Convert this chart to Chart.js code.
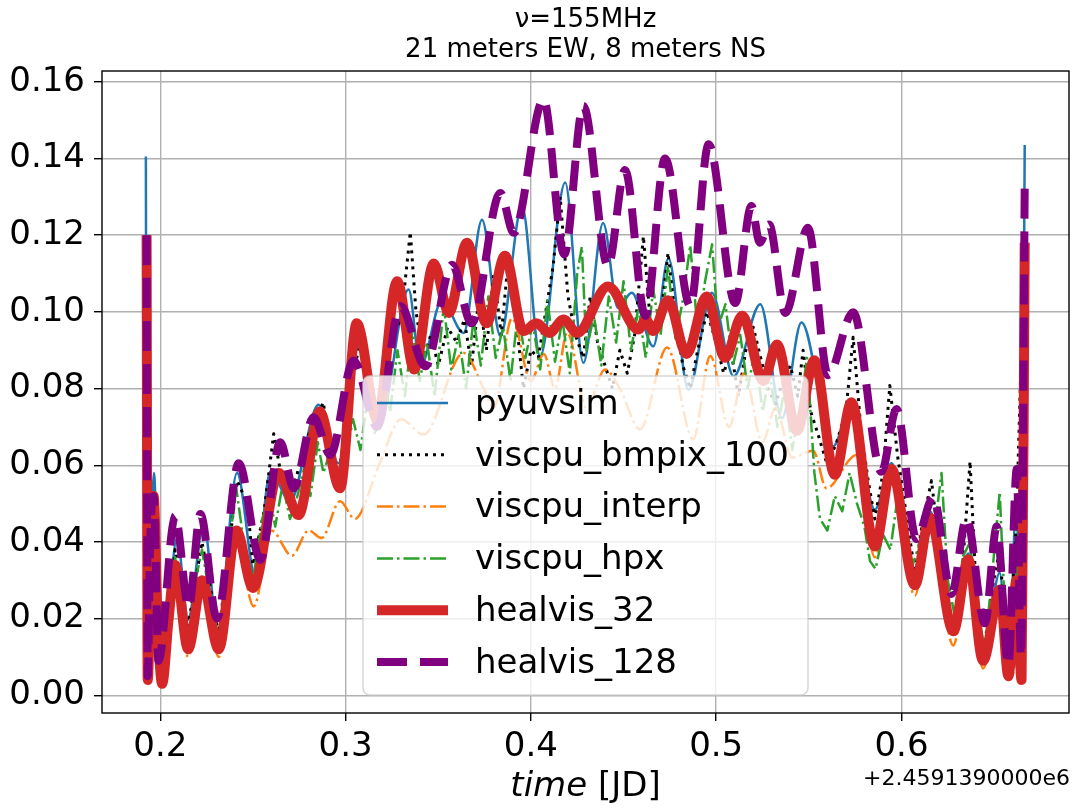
<!DOCTYPE html>
<html>
<head>
<meta charset="utf-8">
<script src="https://cdn.jsdelivr.net/npm/chart.js@4/dist/chart.umd.min.js"></script>
<style>
  body { margin: 0; background: #fff; }
  #wrap { width: 1073px; height: 808px; }
</style>
</head>
<body>
<div id="wrap"><canvas id="myChart" width="1073" height="808"></canvas></div>
<script>
// DATA (time offsets from 2459139.0 JD, amplitudes)

const xTicks = [0.2, 0.3, 0.4, 0.5, 0.6];
const yTicks = [0.00, 0.02, 0.04, 0.06, 0.08, 0.10, 0.12, 0.14, 0.16];

const pyuvsimT = [0.1922, 0.1928, 0.1945, 0.1966, 0.1990, 0.2010, 0.2090, 0.2150, 0.2234, 0.2310,
  0.2414, 0.2513, 0.2594, 0.2700, 0.2854, 0.2962, 0.3070, 0.3187, 0.3340, 0.3404,
  0.3520, 0.3637, 0.3736, 0.3835, 0.3952, 0.4050, 0.4185, 0.4283, 0.4390, 0.4470,
  0.4544, 0.4661, 0.4742, 0.4850, 0.4977, 0.5094, 0.5238, 0.5355, 0.5460, 0.5630,
  0.5730, 0.5856, 0.5946, 0.6070, 0.6153, 0.6280, 0.6360, 0.6440, 0.6530, 0.6577,
  0.6620, 0.6645, 0.6665];
const pyuvsimV = [0.1405, 0.005, 0.030, 0.058, 0.015, 0.006, 0.041, 0.020, 0.045, 0.0167,
  0.058, 0.031, 0.0583, 0.0506, 0.0758, 0.0605, 0.0912, 0.072, 0.1058, 0.0858,
  0.103, 0.0945, 0.124, 0.0937, 0.1276, 0.0884, 0.1337, 0.0867, 0.1232, 0.101,
  0.105, 0.091, 0.114, 0.0797, 0.105, 0.0832, 0.102, 0.0723, 0.0972, 0.0649,
  0.0758, 0.0484, 0.0605, 0.033, 0.048, 0.019, 0.037, 0.010, 0.032, 0.006,
  0.050, 0.008, 0.1435];

const bmpixT = [0.1926, 0.1932, 0.1964, 0.2010, 0.2080, 0.2150, 0.2225, 0.2315, 0.2414, 0.2470,
  0.2500, 0.2560, 0.2612, 0.2650, 0.2700, 0.2750, 0.2800, 0.2880, 0.2920, 0.2960,
  0.3000, 0.3040, 0.3080, 0.3120, 0.3160, 0.3200, 0.3250, 0.3300, 0.3349, 0.3380,
  0.3420, 0.3460, 0.3500, 0.3550, 0.3600, 0.3640, 0.3680, 0.3720, 0.3760, 0.3800,
  0.3840, 0.3880, 0.3920, 0.3960, 0.4000, 0.4040, 0.4080, 0.4120, 0.4158, 0.4200,
  0.4240, 0.4283, 0.4320, 0.4360, 0.4400, 0.4440, 0.4480, 0.4520, 0.4560, 0.4607,
  0.4650, 0.4700, 0.4740, 0.4780, 0.4820, 0.4860, 0.4900, 0.4950, 0.5000, 0.5040,
  0.5080, 0.5120, 0.5160, 0.5200, 0.5240, 0.5280, 0.5320, 0.5360, 0.5400, 0.5440,
  0.5469, 0.5510, 0.5550, 0.5600, 0.5650, 0.5700, 0.5739, 0.5780, 0.5820, 0.5856,
  0.5900, 0.5937, 0.5980, 0.6030, 0.6072, 0.6110, 0.6162, 0.6200, 0.6250, 0.6290,
  0.6330, 0.6370, 0.6400, 0.6440, 0.6490, 0.6530, 0.6577, 0.6620, 0.6665];
const bmpixV = [0.110, 0.004, 0.052, 0.006, 0.038, 0.018, 0.040, 0.016, 0.056, 0.050,
  0.034, 0.048, 0.0682, 0.058, 0.050, 0.060, 0.068, 0.0764, 0.062, 0.056,
  0.070, 0.084, 0.092, 0.078, 0.070, 0.082, 0.094, 0.098, 0.1208, 0.100,
  0.088, 0.094, 0.086, 0.096, 0.092, 0.098, 0.086, 0.104, 0.090, 0.110,
  0.094, 0.1145, 0.098, 0.080, 0.090, 0.088, 0.100, 0.112, 0.130, 0.104,
  0.094, 0.088, 0.104, 0.092, 0.086, 0.080, 0.090, 0.084, 0.094, 0.1197,
  0.094, 0.098, 0.1154, 0.098, 0.086, 0.080, 0.090, 0.100, 0.092, 0.084,
  0.090, 0.078, 0.090, 0.096, 0.088, 0.080, 0.076, 0.082, 0.086, 0.078,
  0.090, 0.074, 0.068, 0.060, 0.066, 0.074, 0.0934, 0.070, 0.056, 0.046,
  0.058, 0.0808, 0.062, 0.046, 0.032, 0.044, 0.056, 0.040, 0.020, 0.016,
  0.034, 0.061, 0.030, 0.010, 0.028, 0.038, 0.006, 0.045, 0.120];

const interpT = [0.1926, 0.1932, 0.1964, 0.2010, 0.2080, 0.2150, 0.2225, 0.2315, 0.2410, 0.2504,
  0.2600, 0.2710, 0.2800, 0.2870, 0.2970, 0.3050, 0.3180, 0.3300, 0.3420, 0.3637,
  0.3745, 0.3800, 0.3898, 0.4000, 0.4070, 0.4130, 0.4196, 0.4300, 0.4400, 0.4480,
  0.4589, 0.4735, 0.4876, 0.4968, 0.5070, 0.5150, 0.5250, 0.5320, 0.5410, 0.5523,
  0.5595, 0.5757, 0.5856, 0.5946, 0.6072, 0.6153, 0.6280, 0.6360, 0.6440, 0.6531,
  0.6577, 0.6640, 0.6665];
const interpV = [0.115, 0.004, 0.048, 0.005, 0.032, 0.010, 0.029, 0.010, 0.040, 0.0232,
  0.043, 0.0364, 0.043, 0.041, 0.0506, 0.046, 0.060, 0.072, 0.068, 0.0893,
  0.080, 0.075, 0.0984, 0.082, 0.089, 0.080, 0.0946, 0.075, 0.085, 0.080,
  0.0694, 0.0907, 0.0668, 0.0885, 0.070, 0.084, 0.066, 0.075, 0.062, 0.0638,
  0.054, 0.0627, 0.036, 0.056, 0.026, 0.044, 0.013, 0.034, 0.007, 0.026,
  0.004, 0.030, 0.115];

const hpxT = [0.1926, 0.1932, 0.1964, 0.2010, 0.2040, 0.2080, 0.2120, 0.2150, 0.2190, 0.2225,
  0.2260, 0.2315, 0.2360, 0.2410, 0.2450, 0.2500, 0.2550, 0.2590, 0.2620, 0.2660,
  0.2700, 0.2740, 0.2780, 0.2810, 0.2850, 0.2880, 0.2920, 0.2960, 0.3000, 0.3040,
  0.3080, 0.3120, 0.3160, 0.3200, 0.3240, 0.3280, 0.3320, 0.3360, 0.3400, 0.3440,
  0.3480, 0.3530, 0.3570, 0.3610, 0.3650, 0.3690, 0.3730, 0.3770, 0.3810, 0.3850,
  0.3890, 0.3930, 0.3970, 0.4010, 0.4050, 0.4090, 0.4130, 0.4170, 0.4210, 0.4250,
  0.4275, 0.4300, 0.4340, 0.4380, 0.4420, 0.4460, 0.4500, 0.4540, 0.4580, 0.4620,
  0.4660, 0.4700, 0.4740, 0.4780, 0.4820, 0.4860, 0.4900, 0.4940, 0.4978, 0.5010,
  0.5050, 0.5090, 0.5130, 0.5170, 0.5210, 0.5250, 0.5290, 0.5330, 0.5370, 0.5410,
  0.5450, 0.5490, 0.5530, 0.5560, 0.5600, 0.5640, 0.5680, 0.5720, 0.5760, 0.5800,
  0.5830, 0.5860, 0.5900, 0.5940, 0.5980, 0.6020, 0.6060, 0.6100, 0.6140, 0.6180,
  0.6216, 0.6250, 0.6290, 0.6330, 0.6370, 0.6410, 0.6450, 0.6490, 0.6530, 0.6560,
  0.6590, 0.6630, 0.6665];
const hpxV = [0.110, 0.004, 0.050, 0.008, 0.022, 0.036, 0.020, 0.013, 0.030, 0.038,
  0.028, 0.015, 0.035, 0.054, 0.040, 0.030, 0.046, 0.052, 0.044, 0.055,
  0.046, 0.052, 0.060, 0.052, 0.066, 0.058, 0.064, 0.056, 0.062, 0.072,
  0.064, 0.078, 0.068, 0.085, 0.074, 0.090, 0.078, 0.095, 0.082, 0.092,
  0.078, 0.1015, 0.085, 0.094, 0.080, 0.098, 0.086, 0.104, 0.088, 0.096,
  0.082, 0.100, 0.088, 0.097, 0.085, 0.103, 0.087, 0.098, 0.084, 0.110,
  0.117, 0.090, 0.099, 0.086, 0.104, 0.092, 0.108, 0.090, 0.101, 0.088,
  0.106, 0.094, 0.112, 0.093, 0.103, 0.1174, 0.095, 0.108, 0.1176, 0.096,
  0.102, 0.086, 0.094, 0.080, 0.090, 0.074, 0.084, 0.070, 0.080, 0.064,
  0.074, 0.088, 0.058, 0.046, 0.043, 0.052, 0.048, 0.058, 0.050, 0.044,
  0.035, 0.033, 0.042, 0.038, 0.052, 0.044, 0.034, 0.040, 0.048, 0.044,
  0.058, 0.030, 0.020, 0.036, 0.040, 0.022, 0.012, 0.032, 0.053, 0.020,
  0.006, 0.040, 0.110];

const healvis32T = [0.1926, 0.1932, 0.1950, 0.1964, 0.1985, 0.2010, 0.2045, 0.2080, 0.2150, 0.2225,
  0.2315, 0.2410, 0.2500, 0.2640, 0.2746, 0.2860, 0.2970, 0.3060, 0.3170, 0.3278,
  0.3370, 0.3476, 0.3557, 0.3655, 0.3760, 0.3860, 0.3960, 0.4030, 0.4100, 0.4176,
  0.4250, 0.4416, 0.4580, 0.4620, 0.4660, 0.4740, 0.4840, 0.4948, 0.5048, 0.5140,
  0.5255, 0.5328, 0.5436, 0.5530, 0.5640, 0.5730, 0.5856, 0.5946, 0.6072, 0.6153,
  0.6280, 0.6360, 0.6440, 0.6531, 0.6577, 0.6620, 0.6648, 0.6665];
const healvis32V = [0.120, 0.004, 0.035, 0.052, 0.020, 0.003, 0.020, 0.034, 0.012, 0.030,
  0.012, 0.043, 0.028, 0.058, 0.047, 0.074, 0.054, 0.097, 0.072, 0.108,
  0.085, 0.1126, 0.0997, 0.118, 0.097, 0.1146, 0.095, 0.097, 0.0945, 0.098,
  0.0945, 0.1066, 0.0954, 0.098, 0.095, 0.103, 0.089, 0.104, 0.088, 0.099,
  0.082, 0.0915, 0.069, 0.0874, 0.0575, 0.0764, 0.0388, 0.059, 0.0287, 0.0464,
  0.0167, 0.0355, 0.009, 0.0276, 0.005, 0.030, 0.004, 0.118];

const healvis128T = [0.1926, 0.1932, 0.1945, 0.1964, 0.1990, 0.2080, 0.2153, 0.2216, 0.2306, 0.2423,
  0.2540, 0.2647, 0.2720, 0.2827, 0.2917, 0.3043, 0.3170, 0.3296, 0.3430, 0.3575,
  0.3680, 0.3835, 0.3907, 0.4068, 0.4180, 0.4283, 0.4416, 0.4508, 0.4618, 0.4724,
  0.4860, 0.4959, 0.5103, 0.5190, 0.5235, 0.5285, 0.5373, 0.5495, 0.5604, 0.5739,
  0.5892, 0.5973, 0.6081, 0.6171, 0.6270, 0.6351, 0.6450, 0.6514, 0.6577, 0.6622,
  0.6645, 0.6665];
const healvis128V = [0.120, 0.005, 0.040, 0.052, 0.009, 0.0468, 0.023, 0.0473, 0.020, 0.0605,
  0.0353, 0.066, 0.054, 0.0725, 0.0627, 0.0873, 0.070, 0.1015, 0.0858, 0.1123,
  0.097, 0.131, 0.1206, 0.1554, 0.115, 0.1537, 0.1119, 0.137, 0.0989, 0.140,
  0.1015, 0.1437, 0.1023, 0.1276, 0.118, 0.1228, 0.0997, 0.1219, 0.0835, 0.0999,
  0.0583, 0.0747, 0.0408, 0.0517, 0.0265, 0.0462, 0.0188, 0.044, 0.0079, 0.059,
  0.010, 0.133];

// SET-UP

function pts(ts, vs) {
  return ts.map((t, i) => ({ x: t, y: vs[i] }));
}

const FONT = "'DejaVu Sans', sans-serif";

const series = [
  { label: "pyuvsim", data: pts(pyuvsimT, pyuvsimV), color: "#1f77b4", width: 2.5, dash: [], smooth: true },
  { label: "viscpu_bmpix_100", data: pts(bmpixT, bmpixV), color: "#000000", width: 3, dash: [3, 5], smooth: false },
  { label: "viscpu_interp", data: pts(interpT, interpV), color: "#ff7f0e", width: 2.5, dash: [16, 4, 2.5, 4], smooth: true },
  { label: "viscpu_hpx", data: pts(hpxT, hpxV), color: "#2ca02c", width: 2.5, dash: [16, 4, 2.5, 4], smooth: false },
  { label: "healvis_32", data: pts(healvis32T, healvis32V), color: "#d62728", width: 10, dash: [], smooth: true },
  { label: "healvis_128", data: pts(healvis128T, healvis128V), color: "#800080", width: 8, dash: [30, 13], smooth: true },
];

const datasets = series.map((s, i) => ({
  label: s.label,
  data: s.data,
  borderColor: s.color,
  backgroundColor: s.color,
  borderWidth: s.width,
  borderDash: s.dash,
  borderCapStyle: "butt",
  borderJoinStyle: "round",
  pointRadius: 0,
  fill: false,
  cubicInterpolationMode: s.smooth ? "monotone" : "default",
  tension: 0,
  order: series.length - i,
}));

// legend + frame + axis text drawn on the canvas, matplotlib style
const extras = {
  id: "extras",
  afterDatasetsDraw(chart) {
    const ctx = chart.ctx;
    const a = chart.chartArea;
    ctx.save();
    // frame
    ctx.strokeStyle = "#000";
    ctx.lineWidth = 1.4;
    ctx.strokeRect(a.left, a.top, a.right - a.left, a.bottom - a.top);

    // legend box
    const bx = 363, by = 376, bw = 445, bh = 319, r = 7;
    ctx.beginPath();
    ctx.moveTo(bx + r, by);
    ctx.arcTo(bx + bw, by, bx + bw, by + bh, r);
    ctx.arcTo(bx + bw, by + bh, bx, by + bh, r);
    ctx.arcTo(bx, by + bh, bx, by, r);
    ctx.arcTo(bx, by, bx + bw, by, r);
    ctx.closePath();
    ctx.fillStyle = "rgba(255,255,255,0.8)";
    ctx.fill();
    ctx.strokeStyle = "rgba(204,204,204,0.8)";
    ctx.lineWidth = 1.4;
    ctx.stroke();

    ctx.font = "34px " + FONT;
    ctx.textBaseline = "middle";
    ctx.textAlign = "left";
    series.forEach((s, i) => {
      const y = 403 + i * 51.8;
      ctx.beginPath();
      ctx.setLineDash(s.dash);
      ctx.lineCap = "butt";
      ctx.strokeStyle = s.color;
      ctx.lineWidth = s.width;
      ctx.moveTo(377, y);
      ctx.lineTo(448, y);
      ctx.stroke();
      ctx.setLineDash([]);
      ctx.fillStyle = "#000";
      ctx.fillText(s.label, 475, y + 2);
    });
    ctx.restore();
  },
  afterDraw(chart) {
    const ctx = chart.ctx;
    const a = chart.chartArea;
    const cx = (a.left + a.right) / 2;
    ctx.save();
    ctx.fillStyle = "#000";
    ctx.textBaseline = "middle";
    // x axis title: italic "time" + " [JD]"
    ctx.font = "italic 34px " + FONT;
    const w1 = ctx.measureText("time").width;
    ctx.font = "34px " + FONT;
    const w2 = ctx.measureText(" [JD]").width;
    let x0 = cx - (w1 + w2) / 2;
    ctx.textAlign = "left";
    ctx.font = "italic 34px " + FONT;
    ctx.fillText("time", x0, 787);
    ctx.font = "34px " + FONT;
    ctx.fillText(" [JD]", x0 + w1, 787);
    // offset text
    ctx.font = "22px " + FONT;
    ctx.textAlign = "right";
    ctx.fillText("+2.4591390000e6", 1070, 779);
    ctx.restore();
  },
};

// CONFIG
const config = {
  type: "line",
  data: { datasets: datasets },
  plugins: [extras],
  options: {
    responsive: false,
    animation: false,
    layout: { padding: { left: 0, right: 4, top: 0, bottom: 0 } },
    plugins: {
      legend: { display: false },
      tooltip: { enabled: false },
      title: {
        display: true,
        fullSize: false,
        text: ["\u03bd=155MHz", "21 meters EW, 8 meters NS"],
        color: "#000",
        font: { family: FONT, size: 26, weight: "normal", lineHeight: 1.154 },
        padding: { top: 5, bottom: 6 },
      },
    },
    scales: {
      x: {
        type: "linear",
        min: 0.16853,
        max: 0.6904,
        afterFit: (s) => { s.height = 95; },
        afterBuildTicks: (s) => { s.ticks = xTicks.map((v) => ({ value: v })); },
        ticks: {
          color: "#000",
          font: { family: FONT, size: 34 },
          padding: 6,
          maxRotation: 0,
          callback: (v) => Number(v).toFixed(1),
        },
        grid: { color: "#b0b0b0", lineWidth: 1.4, tickColor: "#000", tickLength: 8 },
        border: { display: false },
      },
      y: {
        type: "linear",
        min: -0.0046,
        max: 0.1628,
        afterFit: (s) => { s.width = 102; },
        afterBuildTicks: (s) => { s.ticks = yTicks.map((v) => ({ value: v })); },
        ticks: {
          color: "#000",
          font: { family: FONT, size: 34 },
          padding: 9,
          callback: (v) => Number(v).toFixed(2),
        },
        grid: { color: "#b0b0b0", lineWidth: 1.4, tickColor: "#000", tickLength: 8 },
        border: { display: false },
      },
    },
  },
};

// RENDER
var myChart = new Chart(document.getElementById("myChart"), config);
</script>
</body>
</html>
